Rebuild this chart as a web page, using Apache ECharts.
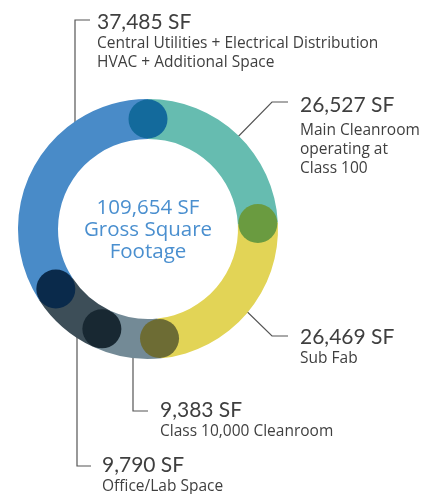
<!DOCTYPE html>
<html lang="en">
<head>
<meta charset="UTF-8">
<title>Gross Square Footage</title>
<script src="https://cdn.jsdelivr.net/npm/echarts@6/dist/echarts.min.js"></script>
<style>
    html, body { margin: 0; padding: 0; background: #fff; }
    #main { width: 436px; height: 494px; }
</style>
</head>
<body>
<div id="main"></div>
<script>
    // data, clockwise from the top
    var areas = ['26,527 SF', '26,469 SF', '9,383 SF', '9,790 SF', '37,485 SF'];
    var values = [26527, 26469, 9383, 9790, 37485];
    var names = [
        'Main Cleanroom\noperating at\nClass 100',
        'Sub Fab',
        'Class 10,000 Cleanroom',
        'Office/Lab Space',
        'Central Utilities + Electrical Distribution\nHVAC + Additional Space'
    ];
    var colors = ['#66bcb0', '#e2d456', '#738a96', '#3d4e58', '#498bc8'];
    // dots sitting on each joint, starting at the top joint
    var dotColors = ['#136a9c', '#6a9b40', '#6d6c34', '#182832', '#0a2a4b'];
    var totalLabel = '109,654 SF\nGross Square\nFootage';

    var total = 0;
    values.forEach(function (v) { total += v; });

    var cx = 148, cy = 229;

    // label anchors (text left / top) and leader lines
    var labelPos = [
        { x: 300, y: 90, pts: [[227, 148], [272, 102], [288, 102]] },
        { x: 300, y: 325, pts: [[232, 297], [272, 336], [288, 336]] },
        { x: 160, y: 398, pts: [[133, 340], [133, 411], [148, 411]] },
        { x: 102, y: 453, pts: [[77, 300], [77, 466], [91, 466]] },
        { x: 97, y: 10, pts: [[75, 148], [75, 20], [90, 20]] }
    ];

    var pieData = values.map(function (v, i) {
        return {
            value: v,
            name: names[i],
            itemStyle: { color: colors[i] },
            label: {
                formatter: (i === 0 ? '{v2|' : '{v|') + areas[i] + '}\n' +
                    names[i].split('\n').map(function (s) { return '{d|' + s + '}'; }).join('\n')
            }
        };
    });

    var dots = [];
    var cum = 0;
    for (var i = 0; i < values.length; i++) {
        dots.push({ value: [110, cum], itemStyle: { color: dotColors[i] } });
        cum += values[i];
    }

    var font = 'Lato, sans-serif';
    var font2 = '"Open Sans", sans-serif';
    var myChart = echarts.init(document.getElementById('main'));
    var option = {
        animation: false,
        polar: { center: [cx, cy], radius: 130 },
        angleAxis: { type: 'value', min: 0, max: total, startAngle: 90, clockwise: true, show: false },
        radiusAxis: { type: 'value', min: 0, max: 130, show: false },
        graphic: [{
            type: 'text',
            x: cx, y: cy + 1,
            z: 10,
            style: {
                text: totalLabel,
                align: 'center',
                verticalAlign: 'middle',
                fill: '#4a8fcf',
                font: '20.5px ' + font2,
                lineHeight: 22
            }
        }],
        series: [{
            type: 'pie',
            center: [cx, cy],
            radius: [90, 130],
            startAngle: 90,
            silent: true,
            avoidLabelOverlap: false,
            z: 2,
            data: pieData,
            label: {
                show: true,
                position: 'outside',
                overflow: 'none',
                fontFamily: font,
                rich: {
                    v: { fontSize: 21, lineHeight: 24, color: '#3f3f3f', fontFamily: font },
                    v2: { fontSize: 21, lineHeight: 31, color: '#3f3f3f', fontFamily: font },
                    d: { fontSize: 15.5, lineHeight: 19, color: '#3f3f3f', fontFamily: font2 }
                }
            },
            labelLine: { show: true, lineStyle: { color: '#555', width: 1.2 } },
            labelLayout: function (p) {
                var l = labelPos[p.dataIndex];
                return { x: l.x, y: l.y, align: 'left', verticalAlign: 'top', labelLinePoints: l.pts };
            }
        }, {
            type: 'scatter',
            coordinateSystem: 'polar',
            symbol: 'circle',
            symbolSize: 39,
            silent: true,
            z: 5,
            itemStyle: { opacity: 1 },
            data: dots
        }]
    };
    myChart.setOption(option);
</script>
</body>
</html>
